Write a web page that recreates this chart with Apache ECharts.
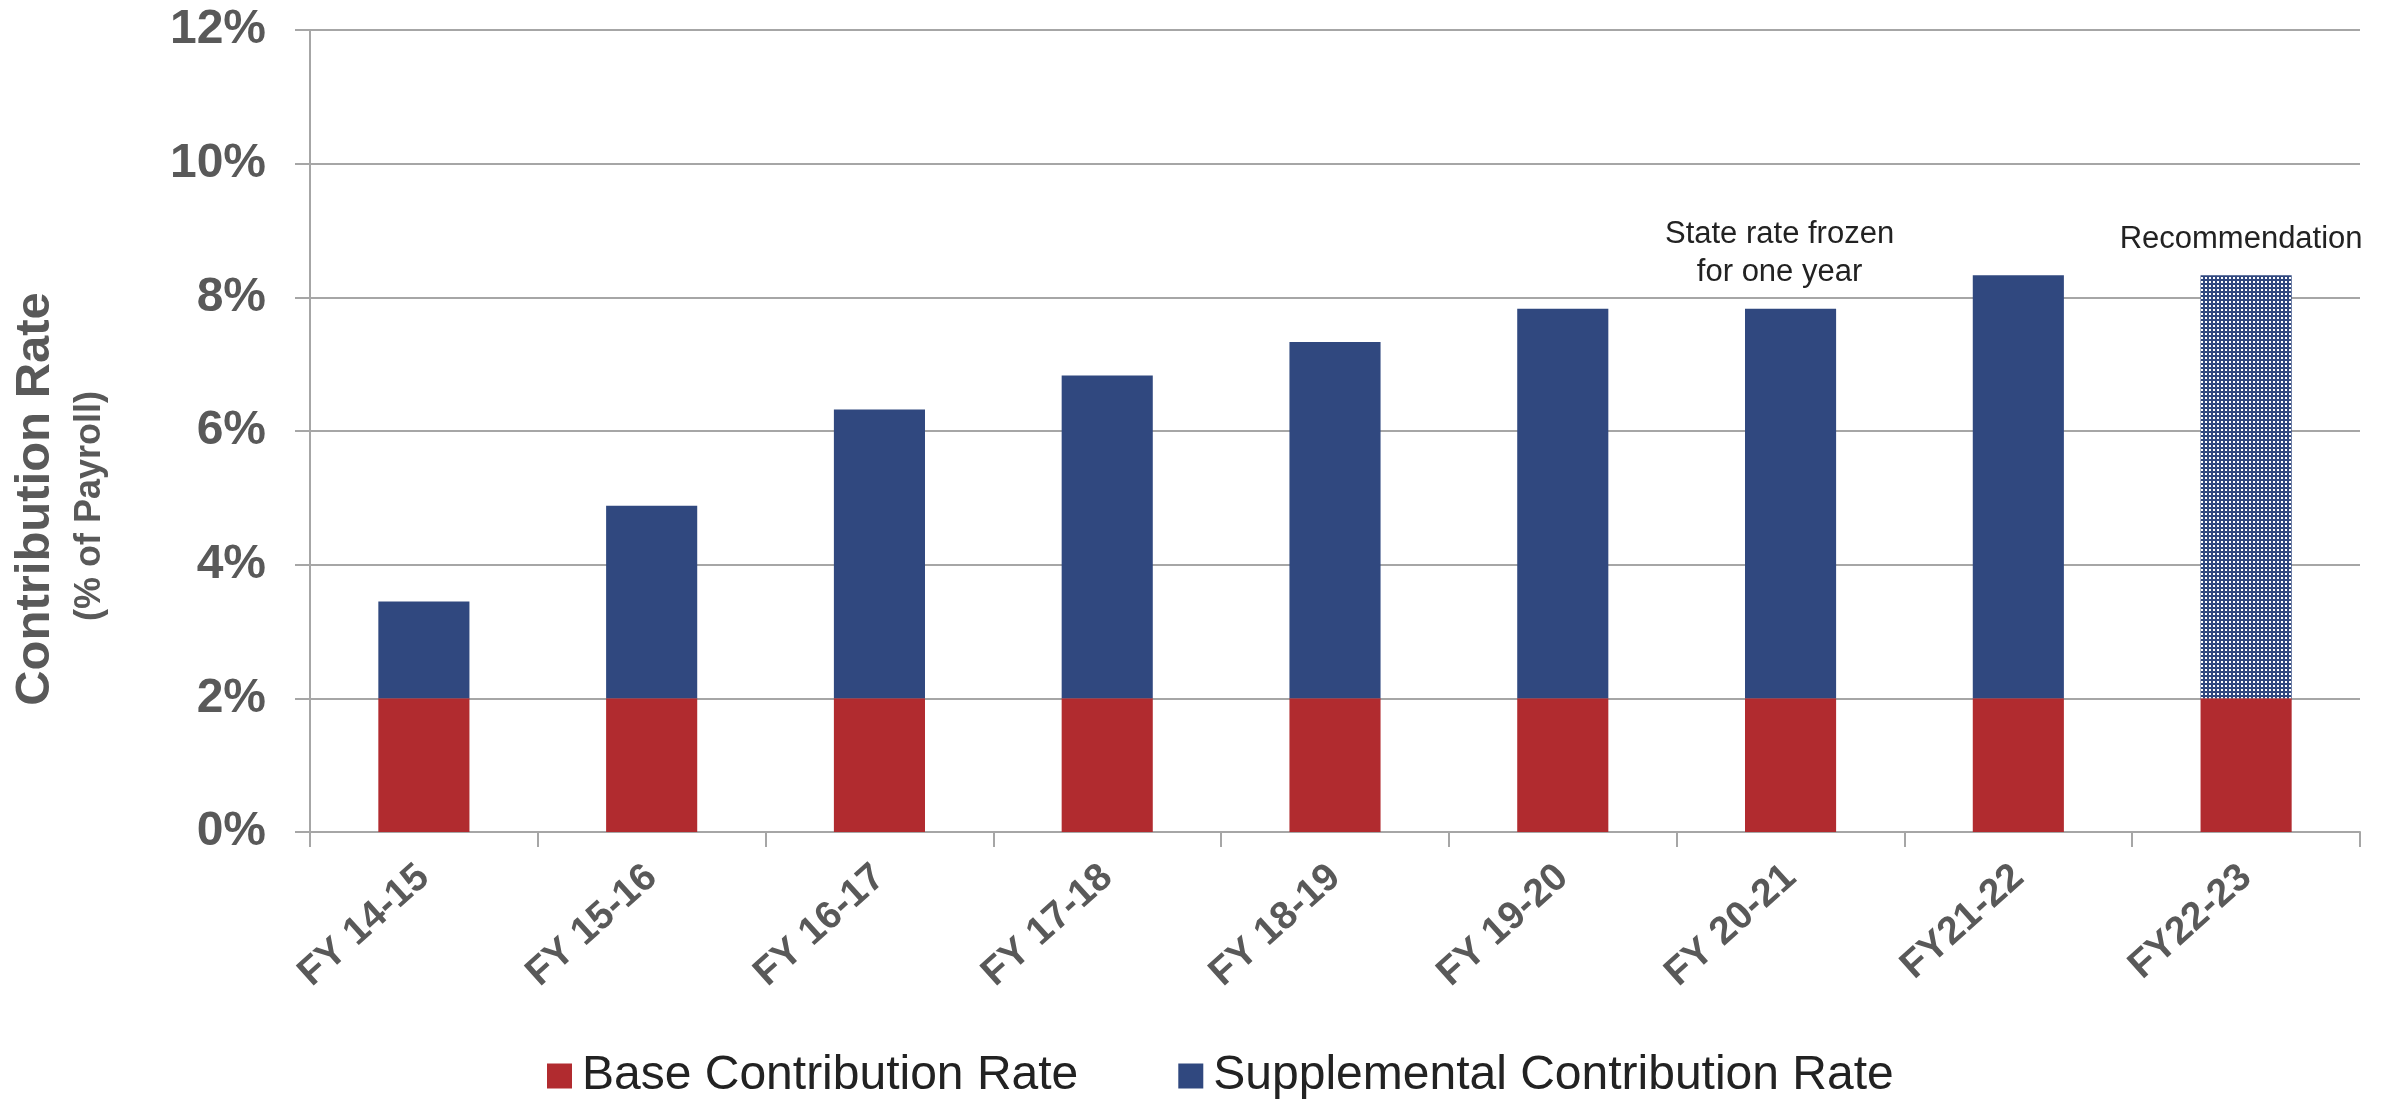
<!DOCTYPE html>
<html>
<head>
<meta charset="utf-8">
<title>Contribution Rate</title>
<script src="https://cdn.jsdelivr.net/npm/echarts@6/dist/echarts.min.js"></script>
<style>
  html, body { margin: 0; padding: 0; background: #ffffff; }
  #chart { width: 2392px; height: 1099px; }
</style>
</head>
<body>
<div id="chart"></div>
<script>
// Fiscal years shown along the x axis
const fiscalYears = ['FY 14-15', 'FY 15-16', 'FY 16-17', 'FY 17-18', 'FY 18-19', 'FY 19-20', 'FY 20-21', 'FY21-22', 'FY22-23'];
// Contribution rates, % of payroll
const baseRate = [2, 2, 2, 2, 2, 2, 2, 2, 2];
const supplementalRate = [1.45, 2.88, 4.32, 4.83, 5.33, 5.83, 5.83, 6.33, 6.33];
// Notes placed above specific years
const yearNotes = { 'FY 20-21': 'State rate frozen\nfor one year', 'FY22-23': 'Recommendation' };
const recommendedYear = 'FY22-23';
// Y axis range and step (percent)
const yMin = 0, yMax = 12, yStep = 2;

const FONT = '"Liberation Sans", Arial, Helvetica, sans-serif';
const GREY = '#595959';
const RULE = '#a6a6a6';
const RED = '#b12b2f';
const BLUE = '#30487f';

// Dotted fill for the recommended bar
function dotPattern() {
  const c = document.createElement('canvas');
  c.width = 4; c.height = 4;
  const ctx = c.getContext('2d');
  ctx.fillStyle = BLUE;
  ctx.fillRect(0, 0, 4, 4);
  ctx.fillStyle = '#ffffff';
  ctx.fillRect(1, 1, 2, 2);
  return c;
}
const pattern = { image: dotPattern(), repeat: 'repeat' };

const noteLabel = (text, dx) => ({
  show: true,
  position: 'top',
  distance: 17,
  offset: [dx, 0],
  formatter: text,
  color: '#222222',
  fontFamily: FONT,
  fontSize: 31,
  lineHeight: 38,
  align: 'center'
});

const supplementalData = fiscalYears.map((fy, i) => {
  const item = { value: supplementalRate[i] };
  if (fy === recommendedYear) item.itemStyle = { color: pattern };
  if (yearNotes[fy]) item.label = noteLabel(yearNotes[fy], fy === recommendedYear ? -5 : -11);
  return item;
});

const chart = echarts.init(document.getElementById('chart'), null, { renderer: 'canvas' });
chart.setOption({
  animation: false,
  backgroundColor: '#ffffff',
  grid: { left: 310, right: 32, top: 30, bottom: 267, containLabel: false },
  legend: {
    left: 542,
    top: 1047,
    itemWidth: 25,
    itemHeight: 25,
    itemGap: 100,
    icon: 'rect',
    textStyle: { fontFamily: FONT, fontSize: 48, lineHeight: 48, color: '#222222', padding: [0, 0, 0, 5] },
    data: ['Base Contribution Rate', 'Supplemental Contribution Rate']
  },
  graphic: [
    {
      type: 'text', x: 35, y: 499, rotation: Math.PI / 2,
      style: { text: 'Contribution Rate', fontFamily: FONT, fontSize: 49, fontWeight: 'bold', fill: GREY, align: 'center', verticalAlign: 'middle' }
    },
    {
      type: 'text', x: 90, y: 506, rotation: Math.PI / 2,
      style: { text: '(% of Payroll)', fontFamily: FONT, fontSize: 36, fontWeight: 'bold', fill: GREY, align: 'center', verticalAlign: 'middle' }
    }
  ],
  xAxis: {
    type: 'category',
    data: fiscalYears,
    axisLine: { show: true, lineStyle: { color: RULE, width: 2 } },
    axisTick: { show: true, length: 15, lineStyle: { color: RULE, width: 2 } },
    axisLabel: {
      interval: 0, rotate: 42, margin: 40,
      fontFamily: FONT, fontSize: 39, fontWeight: 'bold', color: GREY
    }
  },
  yAxis: {
    type: 'value',
    min: yMin, max: yMax, interval: yStep,
    axisLine: { show: true, lineStyle: { color: RULE, width: 2 } },
    axisTick: { show: true, length: 15, lineStyle: { color: RULE, width: 2 } },
    splitLine: { show: true, lineStyle: { color: RULE, width: 2 } },
    axisLabel: {
      margin: 44, formatter: v => v + '%',
      fontFamily: FONT, fontSize: 48, fontWeight: 'bold', color: GREY
    }
  },
  series: [
    {
      name: 'Base Contribution Rate', type: 'bar', stack: 'rate',
      barWidth: '40%',
      itemStyle: { color: RED },
      data: baseRate
    },
    {
      name: 'Supplemental Contribution Rate', type: 'bar', stack: 'rate',
      barWidth: '40%',
      itemStyle: { color: BLUE },
      data: supplementalData
    }
  ]
});
</script>
</body>
</html>
